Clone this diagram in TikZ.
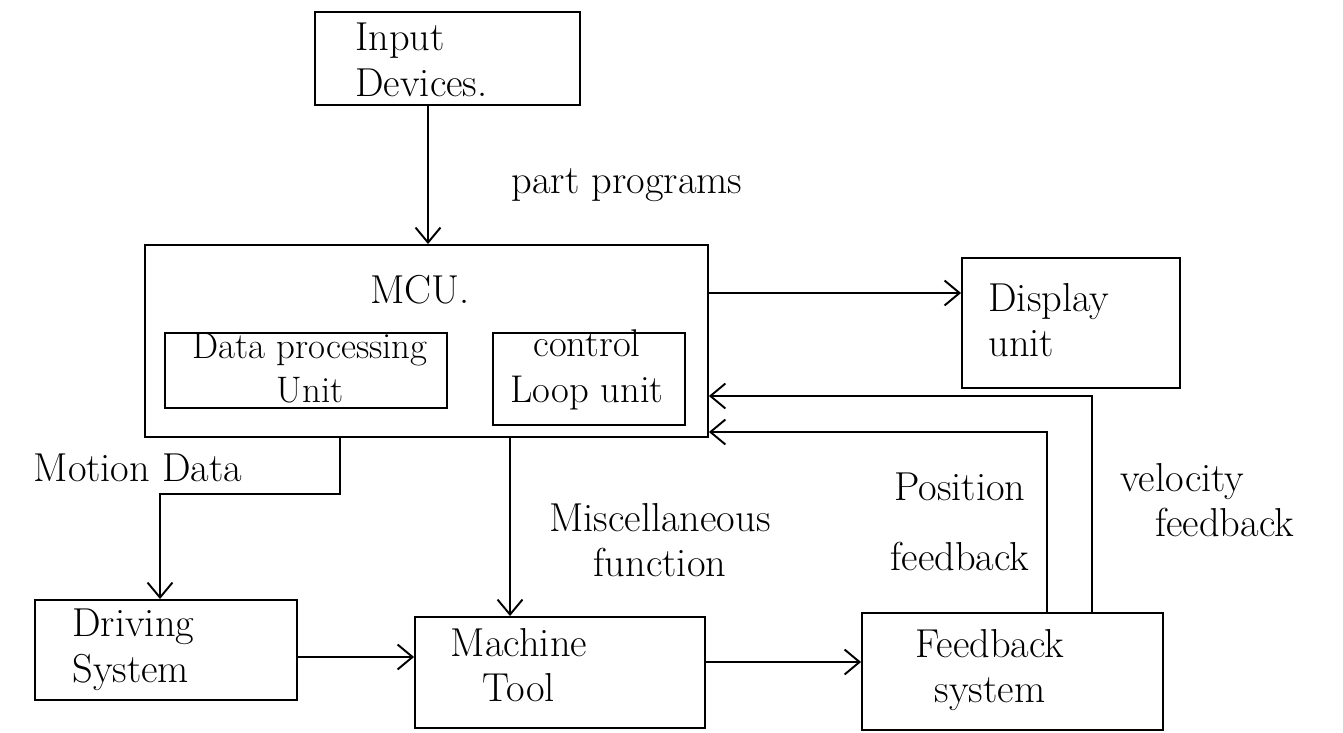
\documentclass[tikz,border=0pt]{standalone}
\usetikzlibrary{arrows.meta}
\begin{document}
\begin{tikzpicture}[x=0.02cm,y=-0.02cm,
  blk/.style={draw, line width=1.1pt, inner sep=0pt},
  lbl/.style={font=\fontsize{23}{26}\selectfont, inner sep=0pt},
  conn/.style={line width=1.1pt},
  arr/.style={conn, -{Straight Barb[length=3mm,width=5mm,line width=1.1pt]}}]
\useasboundingbox (0,0) rectangle (1343,733);
% boxes
\node[blk, minimum width=5.3cm, minimum height=1.86cm] (inp) at (447.5,58.5) {};
\node[blk, minimum width=11.26cm, minimum height=3.84cm] (mcu) at (426.5,341) {};
\node[blk, minimum width=5.64cm, minimum height=1.5cm] (dpu) at (306,370.5) {};
\node[blk, minimum width=3.84cm, minimum height=1.84cm] (clu) at (589,379) {};
\node[blk, minimum width=4.36cm, minimum height=2.6cm] (disp) at (1071,323) {};
\node[blk, minimum width=5.24cm, minimum height=2.0cm] (drv) at (166,650) {};
\node[blk, minimum width=5.8cm, minimum height=2.22cm] (mt) at (560,672.5) {};
\node[blk, minimum width=6.02cm, minimum height=2.34cm] (fb) at (1012.5,671.5) {};
% box texts
\node[lbl, align=left, anchor=west] (tinp) at (355,60) {Input\\Devices.};
\node[lbl] (tmcu) at (420,290) {MCU.};
\node[lbl, align=center, font=\fontsize{21}{25}\selectfont] (tdpu) at (310,368) {Data processing\\Unit};
\node[lbl, align=center, font=\fontsize{22}{26}\selectfont] (tclu) at (587,370) {control\\Loop unit};
\node[lbl, align=left, anchor=west] (tdisp) at (988,320) {Display\\unit};
\node[lbl, align=left, anchor=west] (tdrv) at (72,650) {Driving\\System};
\node[lbl, align=center] (tmt) at (519,665) {Machine\\Tool};
\node[lbl, align=center] (tfb) at (990,670) {Feedback\\system};
% connector labels
\node[lbl] (lpart) at (627,185) {part programs};
\node[lbl] (lmot) at (138,468) {Motion Data};
\node[lbl, align=center] (lmisc) at (660,540) {Miscellaneous\\function};
\node[lbl, align=center, font=\fontsize{23}{40}\selectfont] (lpos) at (960,522) {Position\\feedback};
\node[lbl, align=left, anchor=west] (lvel) at (1120,500) {velocity\\\hspace{0.7cm}feedback};
% helper coordinates
\coordinate (xa) at (428,0);
\coordinate (xm) at (340,0);
\coordinate (xd) at (160,0);
\coordinate (xs) at (510,0);
\coordinate (xp) at (1047,0);
\coordinate (xv) at (1092,0);
\coordinate (ydisp) at (0,293);
\coordinate (ydrv) at (0,657);
\coordinate (ymt) at (0,662);
\coordinate (ypos) at (0,432);
\coordinate (yvel) at (0,396);
\coordinate (bend1) at (340,494);
\coordinate (bend2) at (160,494);
\coordinate (bend3) at (1047,432);
\coordinate (bend4) at (1092,396);
% connectors
\draw[arr] (inp.south -| xa) -- (mcu.north -| xa);
\draw[arr] (mcu.east |- ydisp) -- (disp.west |- ydisp);
\draw[arr] (mcu.south -| xm) -- (bend1) -- (bend2) -- (drv.north -| xd);
\draw[arr] (mcu.south -| xs) -- (mt.north -| xs);
\draw[arr] (drv.east |- ydrv) -- (mt.west |- ydrv);
\draw[arr] (mt.east |- ymt) -- (fb.west |- ymt);
\draw[arr] (fb.north -| xp) -- (bend3) -- (mcu.east |- ypos);
\draw[arr] (fb.north -| xv) -- (bend4) -- (mcu.east |- yvel);
\end{tikzpicture}
\end{document}
